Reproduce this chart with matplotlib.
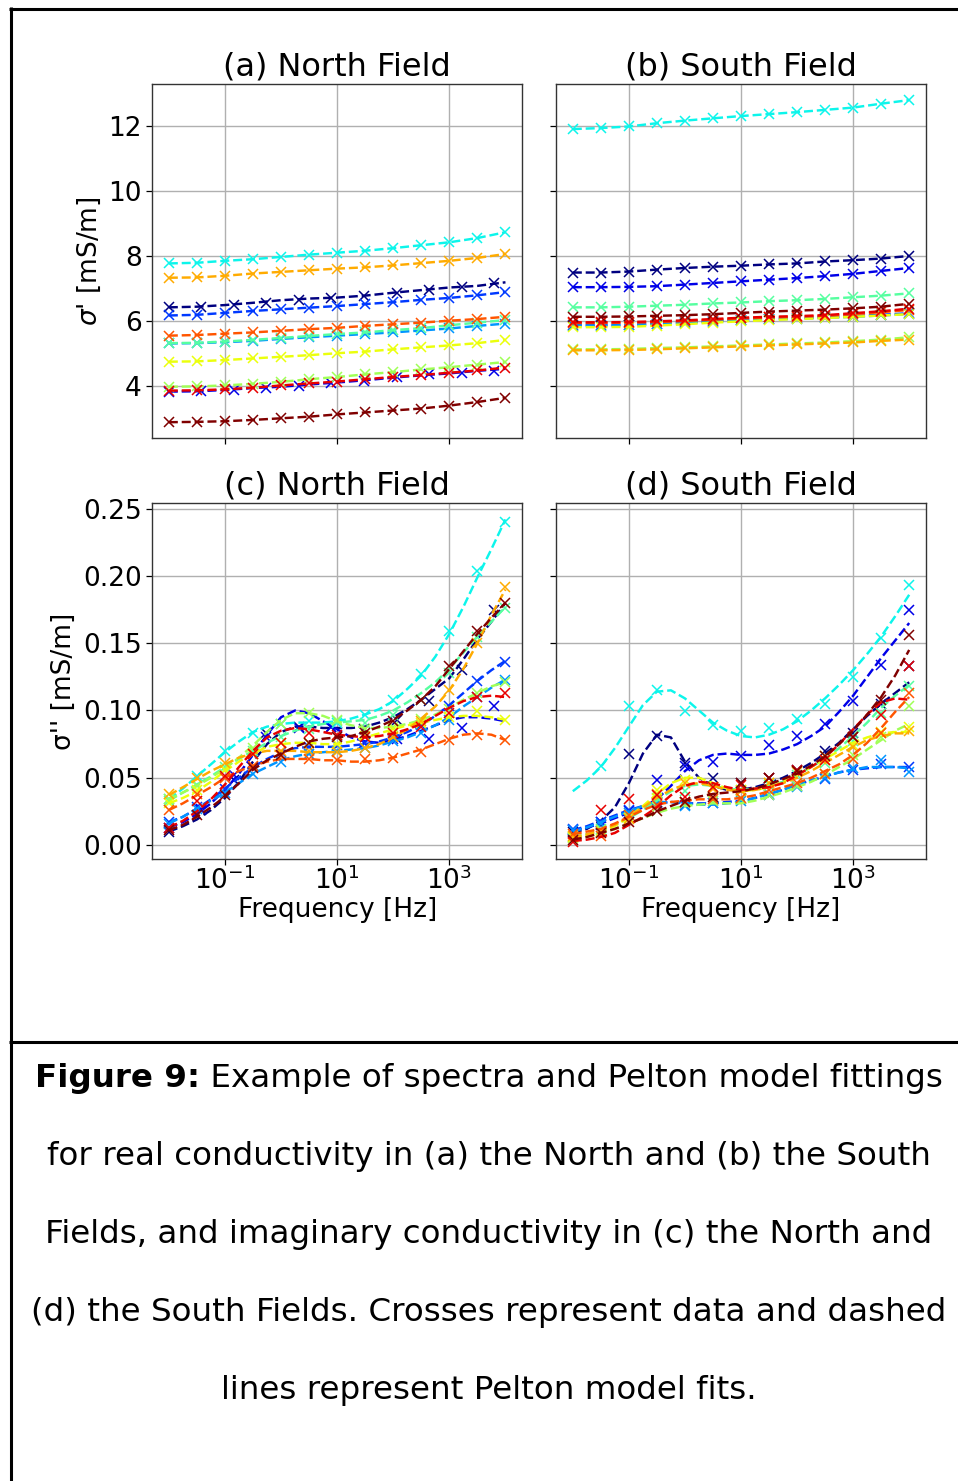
import numpy as np
import matplotlib
matplotlib.use("Agg")
import matplotlib.pyplot as plt
from matplotlib.lines import Line2D
from matplotlib.ticker import NullLocator

nan = np.nan

# ---------------- frequencies ----------------
FREQ = [0.01, 0.0316, 0.1, 0.316, 1.0, 3.16, 10.0, 31.6, 100.0, 316.0, 1000.0, 3162.0, 10000.0]
FREQ_ALT = [0.01, 0.038, 0.145, 0.55, 2.1, 7.9, 30.0, 115.0, 440.0, 1660.0, 6300.0]
FREQ_FIT = [0.01, 0.0178, 0.0316, 0.0562, 0.1, 0.178, 0.316, 0.562, 1.0, 1.78, 3.16, 5.62,
            10.0, 17.8, 31.6, 56.2, 100.0, 178.0, 316.0, 562.0, 1000.0, 1778.0, 3162.0, 5623.0, 10000.0]

SERIES = ["navy", "blue", "mblue", "azure", "cyan", "sgreen", "lgreen",
          "yellow", "orange", "ored", "red", "dred"]

# ---------------- (a) North field, real conductivity [mS/m] ----------------
A_NAVY = [6.42, 6.44, 6.49, 6.56, 6.64, 6.69, 6.72, 6.78, 6.87, 6.95, 7.03, 7.08, 7.19]
A_NAVY_DATA = [6.42, 6.44, 6.49, 6.56, 6.65, 6.70, 6.77, 6.87, 6.95, 7.04, 7.16]
A_BLUE = [3.83, 3.84, 3.88, 3.94, 3.98, 4.05, 4.11, 4.18, 4.26, 4.33, 4.39, 4.47, 4.53]
A_BLUE_DATA = [3.83, 3.84, 3.88, 3.93, 4.00, 4.08, 4.16, 4.27, 4.36, 4.39, 4.47]
A_MBLUE = [6.17, 6.19, 6.25, 6.31, 6.36, 6.41, 6.46, 6.52, 6.58, 6.65, 6.71, 6.79, 6.89]
A_AZURE = [5.31, 5.32, 5.35, 5.39, 5.45, 5.50, 5.55, 5.60, 5.65, 5.71, 5.77, 5.85, 5.92]
A_CYAN = [7.77, 7.79, 7.85, 7.90, 7.97, 8.04, 8.10, 8.16, 8.24, 8.33, 8.42, 8.55, 8.73]
A_SGREEN = [5.32, 5.33, 5.37, 5.42, 5.48, 5.54, 5.60, 5.65, 5.72, 5.78, 5.87, 5.95, 6.03]
A_LGREEN = [3.98, 3.99, 4.02, 4.07, 4.13, 4.21, 4.28, 4.36, 4.43, 4.51, 4.58, 4.66, 4.74]
A_YELLOW = [4.75, 4.76, 4.80, 4.85, 4.90, 4.95, 5.01, 5.06, 5.13, 5.19, 5.25, 5.32, 5.42]
A_ORANGE = [7.33, 7.34, 7.39, 7.46, 7.51, 7.56, 7.61, 7.65, 7.71, 7.78, 7.85, 7.94, 8.06]
A_ORED = [5.55, 5.57, 5.61, 5.65, 5.70, 5.75, 5.79, 5.85, 5.90, 5.95, 6.01, 6.06, 6.13]
A_RED = [3.86, 3.87, 3.90, 3.95, 4.02, 4.08, 4.14, 4.21, 4.28, 4.34, 4.41, 4.48, 4.57]
A_DRED = [2.89, 2.90, 2.92, 2.96, 3.01, 3.06, 3.13, 3.19, 3.25, 3.31, 3.40, 3.51, 3.64]

# ---------------- (b) South field, real conductivity ----------------
B_NAVY = [7.49, 7.49, 7.52, 7.58, 7.63, 7.67, 7.70, 7.74, 7.77, 7.83, 7.87, 7.92, 8.00]
B_BLUE = [7.04, 7.04, 7.05, 7.07, 7.12, 7.17, 7.22, 7.27, 7.32, 7.38, 7.45, 7.54, 7.63]
B_MBLUE = [5.88, 5.88, 5.89, 5.92, 5.96, 6.00, 6.04, 6.07, 6.09, 6.12, 6.15, 6.19, 6.24]
B_AZURE = [5.86, 5.86, 5.87, 5.90, 5.94, 5.98, 6.02, 6.05, 6.07, 6.10, 6.13, 6.17, 6.22]
B_CYAN = [11.90, 11.93, 11.98, 12.08, 12.16, 12.23, 12.30, 12.36, 12.42, 12.49, 12.56, 12.68, 12.79]
B_SGREEN = [6.42, 6.42, 6.44, 6.47, 6.50, 6.54, 6.57, 6.61, 6.64, 6.68, 6.73, 6.78, 6.85]
B_LGREEN = [5.13, 5.13, 5.14, 5.17, 5.19, 5.22, 5.25, 5.28, 5.31, 5.34, 5.38, 5.43, 5.50]
B_YELLOW = [5.81, 5.81, 5.82, 5.86, 5.90, 5.95, 5.99, 6.03, 6.06, 6.09, 6.13, 6.17, 6.21]
B_ORANGE = [5.10, 5.10, 5.11, 5.13, 5.16, 5.19, 5.22, 5.25, 5.28, 5.31, 5.34, 5.39, 5.43]
B_ORED = [5.94, 5.94, 5.95, 5.97, 6.00, 6.04, 6.08, 6.11, 6.13, 6.16, 6.21, 6.27, 6.34]
B_RED = [5.96, 5.96, 5.97, 5.99, 6.02, 6.06, 6.10, 6.13, 6.15, 6.18, 6.24, 6.30, 6.38]
B_DRED = [6.13, 6.13, 6.14, 6.16, 6.18, 6.21, 6.25, 6.29, 6.32, 6.35, 6.39, 6.44, 6.53]

# ---------------- (c) North field, imaginary conductivity ----------------
C_NAVY_FIT = [0.010, 0.014, 0.019, 0.026, 0.035, 0.047, 0.062, 0.075, 0.084, 0.088, 0.088, 0.087, 0.087,
              0.087, 0.088, 0.091, 0.095, 0.101, 0.108, 0.116, 0.124, 0.138, 0.153, 0.166, 0.180]
C_NAVY = [0.010, 0.026, 0.048, 0.083, 0.088, 0.088, 0.086, 0.093, 0.107, 0.130, 0.175]
C_BLUE_FIT = [0.013, 0.017, 0.023, 0.031, 0.041, 0.053, 0.067, 0.082, 0.095, 0.100, 0.098, 0.092, 0.086,
              0.080, 0.077, 0.076, 0.078, 0.081, 0.085, 0.089, 0.093, 0.095, 0.095, 0.094, 0.092]
C_BLUE = [0.013, 0.027, 0.052, 0.080, 0.087, 0.088, 0.076, 0.079, 0.079, 0.087, 0.103]
C_MBLUE_FIT = [0.017, 0.021, 0.027, 0.034, 0.042, 0.050, 0.058, 0.064, 0.069, 0.072, 0.073, 0.073, 0.073,
               0.074, 0.075, 0.077, 0.080, 0.084, 0.089, 0.096, 0.104, 0.113, 0.122, 0.130, 0.137]
C_MBLUE = [0.017, 0.028, 0.042, 0.058, 0.069, 0.073, 0.074, 0.076, 0.079, 0.089, 0.103, 0.122, 0.136]
C_AZURE_FIT = [0.016, 0.021, 0.027, 0.033, 0.039, 0.046, 0.053, 0.058, 0.063, 0.066, 0.068, 0.069, 0.070,
               0.071, 0.072, 0.074, 0.077, 0.080, 0.084, 0.089, 0.095, 0.103, 0.110, 0.117, 0.123]
C_AZURE = [0.016, 0.027, 0.039, 0.053, 0.062, 0.068, 0.070, 0.072, 0.077, 0.083, 0.093, 0.110, 0.123]
C_CYAN_FIT = [0.034, 0.042, 0.051, 0.060, 0.069, 0.077, 0.084, 0.088, 0.090, 0.091, 0.091, 0.091, 0.092,
              0.094, 0.097, 0.101, 0.107, 0.116, 0.126, 0.140, 0.157, 0.177, 0.199, 0.220, 0.242]
C_CYAN = [0.034, 0.051, 0.070, 0.083, 0.090, 0.092, 0.091, 0.097, 0.108, 0.127, 0.159, 0.204, 0.240]
C_SGREEN_FIT = [0.033, 0.039, 0.045, 0.051, 0.058, 0.064, 0.070, 0.076, 0.081, 0.085, 0.088, 0.090, 0.091,
                0.092, 0.093, 0.096, 0.100, 0.106, 0.113, 0.121, 0.131, 0.143, 0.155, 0.166, 0.177]
C_SGREEN = [0.033, 0.045, 0.058, 0.070, 0.080, 0.086, 0.092, 0.091, 0.097, 0.108, 0.128, 0.155, 0.176]
C_LGREEN_FIT = [0.034, 0.039, 0.044, 0.050, 0.057, 0.065, 0.074, 0.084, 0.093, 0.098, 0.098, 0.096, 0.092,
                0.089, 0.087, 0.087, 0.088, 0.090, 0.093, 0.097, 0.102, 0.108, 0.113, 0.118, 0.121]
C_LGREEN = [0.034, 0.044, 0.056, 0.072, 0.090, 0.098, 0.093, 0.086, 0.088, 0.094, 0.101, 0.113, 0.121]
C_YELLOW_FIT = [0.031, 0.035, 0.040, 0.047, 0.055, 0.062, 0.068, 0.073, 0.075, 0.076, 0.076, 0.075, 0.075,
                0.077, 0.080, 0.083, 0.086, 0.089, 0.091, 0.093, 0.095, 0.096, 0.096, 0.095, 0.093]
C_YELLOW = [0.031, 0.041, 0.056, 0.068, 0.076, 0.076, 0.075, 0.081, 0.086, 0.091, 0.095, 0.100, 0.093]
C_ORANGE_FIT = [0.037, 0.043, 0.049, 0.055, 0.060, 0.065, 0.068, 0.070, 0.070, 0.070, 0.069, 0.069, 0.069,
                0.070, 0.072, 0.075, 0.080, 0.086, 0.094, 0.103, 0.115, 0.131, 0.150, 0.171, 0.190]
C_ORANGE = [0.038, 0.050, 0.061, 0.068, 0.070, 0.070, 0.069, 0.072, 0.080, 0.092, 0.115, 0.150, 0.192]
C_ORED_FIT = [0.026, 0.031, 0.037, 0.043, 0.050, 0.055, 0.059, 0.062, 0.064, 0.064, 0.064, 0.063, 0.063,
              0.062, 0.062, 0.063, 0.065, 0.068, 0.071, 0.075, 0.079, 0.082, 0.083, 0.082, 0.078]
C_ORED = [0.026, 0.038, 0.050, 0.059, 0.066, 0.064, 0.063, 0.064, 0.065, 0.069, 0.078, 0.082, 0.078]
C_RED_FIT = [0.013, 0.018, 0.025, 0.034, 0.045, 0.058, 0.070, 0.080, 0.085, 0.087, 0.086, 0.084, 0.082,
             0.081, 0.080, 0.081, 0.083, 0.086, 0.090, 0.096, 0.102, 0.107, 0.110, 0.111, 0.110]
C_RED = [0.013, 0.033, 0.051, 0.068, 0.076, 0.083, 0.082, 0.080, 0.083, 0.088, 0.098, 0.110, 0.113]
C_DRED_FIT = [0.011, 0.015, 0.021, 0.028, 0.036, 0.046, 0.056, 0.063, 0.068, 0.073, 0.077, 0.079, 0.080,
              0.081, 0.084, 0.088, 0.093, 0.100, 0.108, 0.118, 0.131, 0.144, 0.157, 0.169, 0.180]
C_DRED = [0.011, 0.022, 0.037, 0.057, 0.067, 0.076, 0.080, 0.083, 0.092, 0.108, 0.133, 0.159, 0.180]

# ---------------- (d) South field, imaginary conductivity ----------------
D_NAVY_FIT = [0.009, 0.012, 0.018, 0.028, 0.046, 0.068, 0.082, 0.080, 0.062, 0.050, 0.044, 0.041, 0.041,
              0.043, 0.046, 0.050, 0.055, 0.061, 0.068, 0.076, 0.086, 0.096, 0.105, 0.113, 0.121]
D_NAVY = [0.010, 0.015, 0.068, 0.081, 0.061, 0.050, 0.046, 0.050, 0.056, 0.070, 0.083, 0.105, 0.133]
D_BLUE_FIT = [0.010, 0.013, 0.016, 0.020, 0.024, 0.028, 0.034, 0.044, 0.055, 0.063, 0.067, 0.068, 0.067,
              0.067, 0.068, 0.071, 0.075, 0.081, 0.088, 0.099, 0.111, 0.125, 0.139, 0.152, 0.165]
D_BLUE = [0.011, 0.017, 0.025, 0.048, 0.059, 0.062, 0.066, 0.074, 0.081, 0.090, 0.107, 0.134, 0.175]
D_MBLUE_FIT = [0.011, 0.014, 0.018, 0.022, 0.026, 0.029, 0.031, 0.032, 0.031, 0.031, 0.031, 0.032, 0.033,
               0.035, 0.038, 0.041, 0.045, 0.048, 0.051, 0.054, 0.056, 0.057, 0.058, 0.058, 0.058]
D_MBLUE = [0.012, 0.017, 0.026, 0.031, 0.030, 0.031, 0.034, 0.037, 0.044, 0.049, 0.056, 0.060, 0.058]
D_AZURE_FIT = [0.010, 0.013, 0.017, 0.021, 0.025, 0.029, 0.032, 0.032, 0.031, 0.030, 0.030, 0.031, 0.032,
               0.035, 0.038, 0.041, 0.045, 0.048, 0.051, 0.054, 0.056, 0.058, 0.058, 0.058, 0.057]
D_AZURE = [0.011, 0.016, 0.024, 0.032, 0.029, 0.031, 0.033, 0.038, 0.043, 0.050, 0.057, 0.063, 0.054]
D_CYAN_FIT = [0.040, 0.048, 0.058, 0.072, 0.088, 0.104, 0.114, 0.115, 0.109, 0.100, 0.091, 0.085, 0.081,
              0.080, 0.082, 0.086, 0.092, 0.100, 0.109, 0.119, 0.130, 0.142, 0.155, 0.170, 0.186]
D_CYAN = [nan, 0.059, 0.103, 0.115, 0.100, 0.089, 0.085, 0.087, 0.094, 0.105, 0.125, 0.154, 0.193]
D_SGREEN_FIT = [0.006, 0.008, 0.011, 0.015, 0.020, 0.026, 0.033, 0.040, 0.044, 0.045, 0.044, 0.042, 0.041,
                0.042, 0.044, 0.047, 0.052, 0.058, 0.064, 0.072, 0.081, 0.091, 0.102, 0.111, 0.119]
D_SGREEN = [0.006, 0.012, 0.022, 0.035, 0.040, 0.043, 0.041, 0.045, 0.052, 0.061, 0.077, 0.098, 0.118]
D_LGREEN_FIT = [0.004, 0.006, 0.009, 0.012, 0.016, 0.020, 0.024, 0.027, 0.029, 0.030, 0.031, 0.031, 0.031,
                0.033, 0.036, 0.039, 0.043, 0.047, 0.052, 0.058, 0.064, 0.071, 0.078, 0.085, 0.090]
D_LGREEN = [0.005, 0.011, 0.020, 0.028, 0.031, 0.033, 0.034, 0.037, 0.044, 0.053, 0.067, 0.080, 0.103]
D_YELLOW_FIT = [0.005, 0.007, 0.010, 0.014, 0.021, 0.029, 0.038, 0.046, 0.050, 0.050, 0.046, 0.042, 0.040,
                0.041, 0.043, 0.047, 0.052, 0.058, 0.064, 0.070, 0.076, 0.080, 0.083, 0.084, 0.084]
D_YELLOW = [0.006, 0.010, 0.020, 0.041, 0.048, 0.043, 0.041, 0.046, 0.055, 0.066, 0.074, 0.084, 0.088]
D_ORANGE_FIT = [0.006, 0.008, 0.011, 0.015, 0.021, 0.028, 0.035, 0.041, 0.045, 0.046, 0.044, 0.041, 0.040,
                0.041, 0.043, 0.046, 0.050, 0.055, 0.061, 0.067, 0.073, 0.078, 0.081, 0.083, 0.083]
D_ORANGE = [0.007, 0.010, 0.019, 0.038, 0.046, 0.042, 0.040, 0.046, 0.054, 0.063, 0.073, 0.083, 0.085]
D_ORED_FIT = [0.008, 0.010, 0.012, 0.016, 0.021, 0.026, 0.030, 0.032, 0.033, 0.034, 0.034, 0.034, 0.035,
              0.037, 0.040, 0.043, 0.046, 0.050, 0.055, 0.060, 0.067, 0.076, 0.087, 0.099, 0.110]
D_ORED = [0.008, 0.007, 0.022, 0.030, 0.032, 0.034, 0.035, 0.041, 0.046, 0.053, 0.064, 0.083, 0.113]
D_RED_FIT = [0.003, 0.004, 0.006, 0.009, 0.015, 0.021, 0.028, 0.037, 0.044, 0.047, 0.046, 0.043, 0.041,
             0.042, 0.043, 0.046, 0.052, 0.058, 0.065, 0.075, 0.086, 0.097, 0.106, 0.109, 0.108]
D_RED = [0.002, 0.026, 0.034, 0.037, 0.036, 0.043, 0.045, 0.050, 0.056, 0.063, 0.080, 0.097, 0.133]
D_DRED_FIT = [0.004, 0.006, 0.009, 0.012, 0.016, 0.020, 0.025, 0.029, 0.033, 0.036, 0.038, 0.039, 0.040,
              0.042, 0.045, 0.049, 0.053, 0.059, 0.066, 0.075, 0.085, 0.097, 0.110, 0.126, 0.145]
D_DRED = [0.004, 0.009, 0.017, 0.025, 0.032, 0.036, 0.046, 0.050, 0.055, 0.066, 0.080, 0.108, 0.156]

TITLES = ["(a) North Field", "(b) South Field", "(c) North Field", "(d) South Field"]
YLABEL_REAL = r"$\sigma$' [mS/m]"
YLABEL_IMAG = "σ'' [mS/m]"
XLABEL = "Frequency [Hz]"
XTICKS = [0.1, 10, 1000]
CAPTION_BOLD = "Figure 9:"
CAPTION_LINES = [
    " Example of spectra and Pelton model fittings",
    "for real conductivity in (a) the North and (b) the South",
    "Fields, and imaginary conductivity in (c) the North and",
    "(d) the South Fields. Crosses represent data and dashed",
    "lines represent Pelton model fits.",
]

# ---------------- figure ----------------
W, H = 958, 1481
fig = plt.figure(figsize=(W / 100, H / 100), dpi=100)
plt.rcParams["font.family"] = ["DejaVu Sans"]


def rect(l, t, r, b):
    return [l / W, 1 - b / H, (r - l) / W, (b - t) / H]


axA = fig.add_axes(rect(152, 84, 522.3, 438.3))
axB = fig.add_axes(rect(556, 84, 926, 438.3), sharex=axA, sharey=axA)
axC = fig.add_axes(rect(152, 503.3, 522.3, 858.5), sharex=axA)
axD = fig.add_axes(rect(556, 503.3, 926, 858.5), sharex=axA, sharey=axC)

colors = plt.cm.jet(np.linspace(0, 1, 12))
LW = 1.75
MS = 6.5
MEW = 1.1

panel_a_fit = [A_NAVY, A_BLUE, A_MBLUE, A_AZURE, A_CYAN, A_SGREEN, A_LGREEN,
               A_YELLOW, A_ORANGE, A_ORED, A_RED, A_DRED]
panel_a_data = [(FREQ_ALT, A_NAVY_DATA), (FREQ_ALT, A_BLUE_DATA)] + \
               [(FREQ, s) for s in panel_a_fit[2:]]
panel_b_fit = [B_NAVY, B_BLUE, B_MBLUE, B_AZURE, B_CYAN, B_SGREEN, B_LGREEN,
               B_YELLOW, B_ORANGE, B_ORED, B_RED, B_DRED]
panel_b_data = [(FREQ, s) for s in panel_b_fit]

panel_c_fit = [C_NAVY_FIT, C_BLUE_FIT, C_MBLUE_FIT, C_AZURE_FIT, C_CYAN_FIT, C_SGREEN_FIT,
               C_LGREEN_FIT, C_YELLOW_FIT, C_ORANGE_FIT, C_ORED_FIT, C_RED_FIT, C_DRED_FIT]
panel_c_data = [(FREQ_ALT, C_NAVY), (FREQ_ALT, C_BLUE), (FREQ, C_MBLUE), (FREQ, C_AZURE),
                (FREQ, C_CYAN), (FREQ, C_SGREEN), (FREQ, C_LGREEN), (FREQ, C_YELLOW),
                (FREQ, C_ORANGE), (FREQ, C_ORED), (FREQ, C_RED), (FREQ, C_DRED)]
panel_d_fit = [D_NAVY_FIT, D_BLUE_FIT, D_MBLUE_FIT, D_AZURE_FIT, D_CYAN_FIT, D_SGREEN_FIT,
               D_LGREEN_FIT, D_YELLOW_FIT, D_ORANGE_FIT, D_ORED_FIT, D_RED_FIT, D_DRED_FIT]
panel_d_data = [(FREQ, D_NAVY), (FREQ, D_BLUE), (FREQ, D_MBLUE), (FREQ, D_AZURE),
                (FREQ, D_CYAN), (FREQ, D_SGREEN), (FREQ, D_LGREEN), (FREQ, D_YELLOW),
                (FREQ, D_ORANGE), (FREQ, D_ORED), (FREQ, D_RED), (FREQ, D_DRED)]

panels = [
    (axA, FREQ, panel_a_fit, panel_a_data),
    (axB, FREQ, panel_b_fit, panel_b_data),
    (axC, FREQ_FIT, panel_c_fit, panel_c_data),
    (axD, FREQ_FIT, panel_d_fit, panel_d_data),
]

for ax, ffit, fits, datas in panels:
    for i in range(12):
        c = colors[i]
        ax.plot(ffit, fits[i], "--", color=c, lw=LW, zorder=2 + i * 0.01)
        fd, vd = datas[i]
        ax.plot(fd, vd, "x", color=c, ms=MS, mew=MEW, zorder=2 + i * 0.01)

axA.set_xscale("log")
for ax, t in zip([axA, axB, axC, axD], TITLES):
    ax.set_title(t, fontsize=23, pad=6)
    ax.grid(True, color="#b0b0b0", lw=1.0)
    ax.set_axisbelow(True)
    ax.tick_params(labelsize=19, length=4, width=0.9)
    ax.tick_params(axis="x", pad=1.5)
    for s in ax.spines.values():
        s.set_linewidth(1.0)
        s.set_color("#333333")

axA.set_xticks(XTICKS)
axA.xaxis.set_minor_locator(NullLocator())

axA.tick_params(labelbottom=False)
axB.tick_params(labelbottom=False, labelleft=False)
axD.tick_params(labelleft=False)

axA.set_ylabel(YLABEL_REAL, fontsize=19)
axC.set_ylabel(YLABEL_IMAG, fontsize=19)
axC.set_xlabel(XLABEL, fontsize=19, labelpad=2)
axD.set_xlabel(XLABEL, fontsize=19, labelpad=2)

# ---------------- page frame lines ----------------
def hline(y, x0, x1):
    fig.add_artist(Line2D([x0 / W, x1 / W], [1 - y / H, 1 - y / H],
                          transform=fig.transFigure, color="black", lw=2.2,
                          solid_capstyle="butt"))


def vline(x, y0, y1):
    fig.add_artist(Line2D([x / W, x / W], [1 - y0 / H, 1 - y1 / H],
                          transform=fig.transFigure, color="black", lw=2.2,
                          solid_capstyle="butt"))


hline(8.5, 9, W)
vline(10.5, 7, H)
hline(1041.5, 9, W)

# ---------------- caption ----------------
CAP_FS = 23.4
CX = 489
line_y = [1078, 1156, 1234, 1312, 1390]
renderer = fig.canvas.get_renderer()

tb = fig.text(0, 0, CAPTION_BOLD, fontsize=CAP_FS, fontweight="bold", va="center", ha="left")
tn = fig.text(0, 0, CAPTION_LINES[0], fontsize=CAP_FS, va="center", ha="left")
wb = tb.get_window_extent(renderer).width
wn = tn.get_window_extent(renderer).width
x0 = CX - (wb + wn) / 2
tb.set_position((x0 / W, 1 - line_y[0] / H))
tn.set_position(((x0 + wb) / W, 1 - line_y[0] / H))

for txt, yy in zip(CAPTION_LINES[1:], line_y[1:]):
    fig.text(CX / W, 1 - yy / H, txt, fontsize=CAP_FS, va="center", ha="center")

fig.savefig("out.png", dpi=100)
